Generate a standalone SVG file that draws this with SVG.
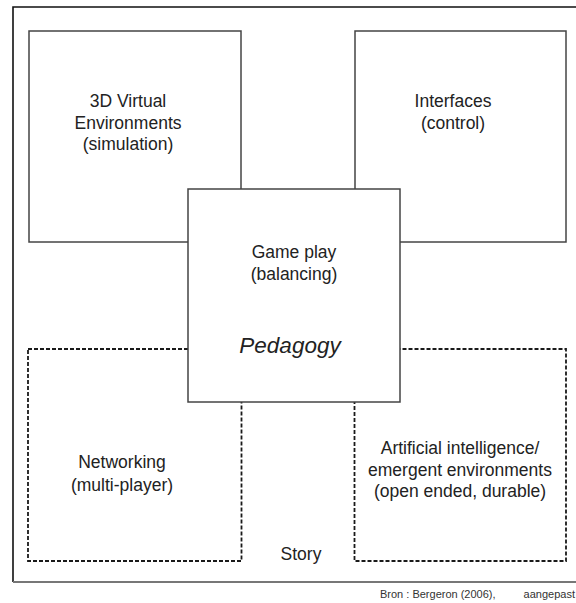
<svg xmlns="http://www.w3.org/2000/svg" width="576" height="603" viewBox="0 0 576 603">
  <style>
    text { font-family: "Liberation Sans", Arial, sans-serif; fill: #222; }
    .lbl { font-size: 17.5px; text-anchor: middle; }
    .big { font-size: 22.5px; font-style: italic; }
    .solid { fill: #fff; stroke: #444; stroke-width: 1.5; }
    .dashed { fill: none; stroke: #1a1a1a; stroke-width: 1.8; stroke-dasharray: 4 2; }
    .foot { font-size: 11px; fill: #333; }
  </style>
  <rect width="576" height="603" fill="#fff"/>

  <!-- page frame -->
  <g id="frame">
    <path d="M13 582 V7 H576" fill="none" stroke="#111" stroke-width="1.6"/>
    <path d="M13 582 H576" fill="none" stroke="#777" stroke-width="2.2"/>
  </g>

  <g id="connectors"></g>

  <g id="virtual-environments">
    <rect class="solid" x="29" y="31" width="212" height="211"/>
    <text class="lbl" x="128" y="107">3D Virtual</text>
    <text class="lbl" x="128" y="128.5">Environments</text>
    <text class="lbl" x="128" y="150">(simulation)</text>
  </g>

  <g id="interfaces">
    <rect class="solid" x="355" y="31" width="211" height="211"/>
    <text class="lbl" x="453" y="107">Interfaces</text>
    <text class="lbl" x="453" y="128.5">(control)</text>
  </g>

  <g id="networking">
    <rect class="dashed" x="28" y="349" width="213.5" height="212"/>
    <text class="lbl" x="122" y="468">Networking</text>
    <text class="lbl" x="122" y="491">(multi-player)</text>
  </g>

  <g id="artificial-intelligence">
    <rect class="dashed" x="354.5" y="349" width="211.5" height="212"/>
    <text class="lbl" x="460" y="454">Artificial intelligence/</text>
    <text class="lbl" x="460" y="476">emergent environments</text>
    <text class="lbl" x="460" y="497">(open ended, durable)</text>
  </g>

  <g id="game-play">
    <rect class="solid" x="188" y="189" width="212" height="213"/>
    <text class="lbl" x="294" y="258">Game play</text>
    <text class="lbl" x="294" y="280">(balancing)</text>
    <text class="lbl big" x="290" y="353">Pedagogy</text>
  </g>

  <g id="story">
    <text class="lbl" x="301" y="560">Story</text>
  </g>

  <g id="source">
    <text class="foot" x="380" y="598">Bron : Bergeron (2006),</text>
    <text class="foot" x="575" y="598" text-anchor="end">aangepast</text>
  </g>
</svg>
